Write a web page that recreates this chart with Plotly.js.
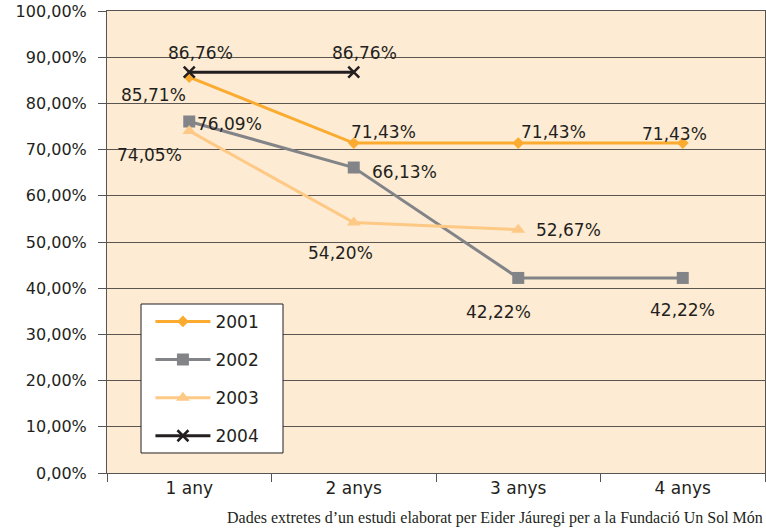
<!DOCTYPE html>
<html><head><meta charset="utf-8">
<script src="https://cdn.plot.ly/plotly-3.0.1.min.js"></script>
<style>body{margin:0;background:#fff}#c{width:766px;height:529px}</style>
</head><body><div id="c"></div>
<script>
const categories = ["1 any", "2 anys", "3 anys", "4 anys"];
const s2001 = [85.71, 71.43, 71.43, 71.43];
const s2002 = [76.09, 66.13, 42.22, 42.22];
const s2003 = [74.05, 54.20, 52.67];
const s2004 = [86.76, 86.76];
const seriesNames = ["2001", "2002", "2003", "2004"];
const yTickVals = [0,10,20,30,40,50,60,70,80,90,100];

const colors = ["#fbab2f", "#838488", "#fdc985", "#231f20"];
const symbols = ["diamond", "square", "triangle-up", "x-thin"];
const msizes = [9, 12, 12, 11];
const series = [s2001, s2002, s2003, s2004];
// label offsets (pixels) relative to each point
const offs = [
  [[-36,-18],[30,11],[35,11],[-8,9]],
  [[40,-2],[51,-4],[-20,-34],[0,-32]],
  [[-40,-24],[-13,-30],[50,0]],
  [[11,19],[11,19]]
];
const FONT = "DejaVu Sans, sans-serif";
const fmt = v => v.toFixed(2).replace(".", ",") + "%";
const traces = series.map((vals, i) => ({
  type: "scatter", mode: "lines+markers",
  name: seriesNames[i], legendgroup: seriesNames[i],
  x: categories.slice(0, vals.length), y: vals,
  line: {color: colors[i], width: 3},
  marker: {symbol: symbols[i], size: msizes[i], color: colors[i],
           line: {color: colors[i], width: i === 3 ? 2.5 : 0}},
  hoverinfo: "skip"
}));
const annotations = [];
series.forEach((vals, i) => vals.forEach((v, j) => {
  annotations.push({x: categories[j], y: v, xref: "x", yref: "y", text: fmt(v),
    showarrow: false, xshift: offs[i][j][0], yshift: offs[i][j][1],
    font: {family: FONT, size: 17, color: "#231f20"}});
}));
annotations.push({xref: "paper", yref: "paper", x: 1, y: -0.097, xanchor: "right", yanchor: "middle",
  text: "Dades extretes d\u2019un estudi elaborat per Eider Jáuregi per a la Fundació Un Sol Món",
  showarrow: false, font: {family: "Liberation Serif, serif", size: 16, color: "#231f20"}});

const layout = {
  width: 766, height: 529,
  margin: {l: 107, r: 1, t: 11, b: 56},
  paper_bgcolor: "#ffffff", plot_bgcolor: "#fdebd3",
  showlegend: true,
  shapes: [{type: "rect", xref: "paper", yref: "paper", x0: 0.0517, x1: 0.2675, y0: 0.0433, y1: 0.3658,
    fillcolor: "#ffffff", line: {color: "#231f20", width: 1}, layer: "above"}],
  legend: {x: 0.066, y: 0.366, xanchor: "left", yanchor: "top",
    bgcolor: "rgba(0,0,0,0)", borderwidth: 0,
    font: {family: FONT, size: 17, color: "#231f20"},
    itemwidth: 55, tracegroupgap: 13},
  xaxis: {type: "category", categoryarray: categories, range: [-0.5, 3.5],
    tickson: "boundaries", ticks: "outside", ticklen: 8, tickcolor: "#555",
    showgrid: false, showline: true, linecolor: "#555", linewidth: 1, mirror: true,
    tickfont: {family: FONT, size: 17, color: "#231f20"}, fixedrange: true},
  yaxis: {range: [0, 100.01], tickmode: "array", tickvals: yTickVals, ticktext: yTickVals.map(fmt),
    ticks: "outside", ticklen: 8, tickcolor: "#555", ticklabelstandoff: 8,
    showgrid: true, gridcolor: "#5a5550", gridwidth: 1,
    showline: true, linecolor: "#555", linewidth: 1, mirror: true, zeroline: false,
    tickfont: {family: FONT, size: 16, color: "#231f20"}, fixedrange: true},
  annotations: annotations
};
Plotly.newPlot("c", traces, layout, {displayModeBar: false, staticPlot: true});
</script></body></html>
